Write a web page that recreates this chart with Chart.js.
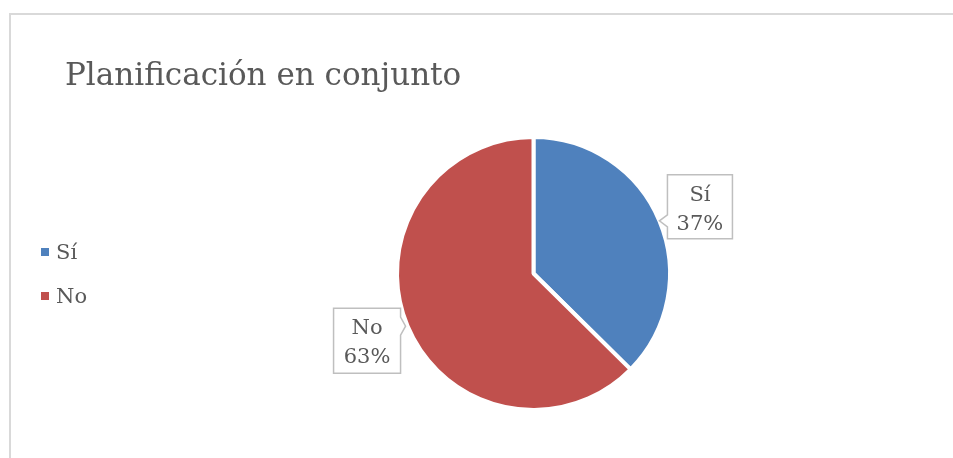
<!DOCTYPE html>
<html>
<head>
<meta charset="utf-8">
<script src="https://cdn.jsdelivr.net/npm/chart.js@4"></script>
<style>
  html, body { margin: 0; padding: 0; background: #fff; }
  #wrap { position: relative; width: 953px; height: 458px; overflow: hidden; }
  #frame {
    position: absolute; left: 9px; top: 13px; width: 1000px; height: 500px;
    border-left: 2px solid #d9d9d9; border-top: 2px solid #d9d9d9;
  }
  canvas { position: absolute; left: 0; top: 0; }
</style>
</head>
<body>
<div id="wrap">
  <div id="frame"></div>
  <canvas id="chart" width="953" height="458"></canvas>
</div>
<script>
const title = 'Planificación en conjunto';
const labels = ['Sí', 'No'];
const values = [37.4, 62.6];
const colors = ['#4f81bd', '#c0504d'];

const textColor = '#595959';
const fontFamily = '"DejaVu Serif", serif';

// callout box placement relative to the slice's mid point on the rim
const callouts = [
  { dx: 8, dy: -46, w: 65, h: 64, side: 'left' },
  { dx: -74, dy: -18, w: 67, h: 65, side: 'right' }
];

const titlePlugin = {
  id: 'titleText',
  afterDraw(chart) {
    const ctx = chart.ctx;
    ctx.save();
    ctx.fillStyle = textColor;
    ctx.font = `31px ${fontFamily}`;
    ctx.textBaseline = 'alphabetic';
    ctx.fillText(title, 65, 85);
    ctx.restore();
  }
};

const legendPlugin = {
  id: 'leftLegend',
  afterDraw(chart) {
    const ctx = chart.ctx;
    const ds = chart.data.datasets[0];
    ctx.save();
    ctx.font = `21px ${fontFamily}`;
    ctx.textBaseline = 'alphabetic';
    chart.data.labels.forEach((lbl, i) => {
      const base = 259 + i * 44;
      ctx.fillStyle = ds.backgroundColor[i];
      ctx.fillRect(41, base - 11, 8, 8);
      ctx.fillStyle = textColor;
      ctx.fillText(lbl, 56, base);
    });
    ctx.restore();
  }
};

const calloutPlugin = {
  id: 'callouts',
  afterDatasetsDraw(chart) {
    const ctx = chart.ctx;
    const meta = chart.getDatasetMeta(0);
    const ds = chart.data.datasets[0];
    const total = ds.data.reduce((a, b) => a + b, 0);
    ctx.save();
    meta.data.forEach((arc, i) => {
      const { x, y, startAngle, endAngle, outerRadius } = arc.getProps(['x', 'y', 'startAngle', 'endAngle', 'outerRadius'], true);
      const mid = (startAngle + endAngle) / 2;
      const tx = x + Math.cos(mid) * outerRadius;
      const ty = y + Math.sin(mid) * outerRadius;
      const c = callouts[i];
      const bx = tx + c.dx, by = ty + c.dy;

      ctx.beginPath();
      ctx.moveTo(bx, by);
      ctx.lineTo(bx + c.w, by);
      if (c.side === 'right') {
        ctx.lineTo(bx + c.w, ty - 9);
        ctx.lineTo(tx - 2, ty);
        ctx.lineTo(bx + c.w, ty + 9);
      }
      ctx.lineTo(bx + c.w, by + c.h);
      ctx.lineTo(bx, by + c.h);
      if (c.side === 'left') {
        ctx.lineTo(bx, ty + 6);
        ctx.lineTo(tx, ty);
        ctx.lineTo(bx, ty - 6);
      }
      ctx.closePath();
      ctx.fillStyle = '#fff';
      ctx.fill();
      ctx.strokeStyle = '#bfbfbf';
      ctx.lineWidth = 1.5;
      ctx.stroke();

      const pct = Math.round(ds.data[i] / total * 100) + '%';
      ctx.fillStyle = textColor;
      ctx.font = `21px ${fontFamily}`;
      ctx.textAlign = 'center';
      ctx.textBaseline = 'alphabetic';
      ctx.fillText(chart.data.labels[i], bx + c.w / 2, by + 26);
      ctx.fillText(pct, bx + c.w / 2, by + 55);
    });
    ctx.restore();
  }
};

new Chart(document.getElementById('chart'), {
  type: 'pie',
  data: {
    labels,
    datasets: [{
      data: values,
      backgroundColor: colors,
      borderColor: '#ffffff',
      borderWidth: 4,
      hoverOffset: 0
    }]
  },
  options: {
    responsive: false,
    animation: false,
    devicePixelRatio: 1,
    layout: { padding: { left: 395, right: 281, top: 135, bottom: 46 } },
    plugins: {
      legend: { display: false },
      title: { display: false },
      tooltip: { enabled: false }
    }
  },
  plugins: [titlePlugin, legendPlugin, calloutPlugin]
});
</script>
</body>
</html>
